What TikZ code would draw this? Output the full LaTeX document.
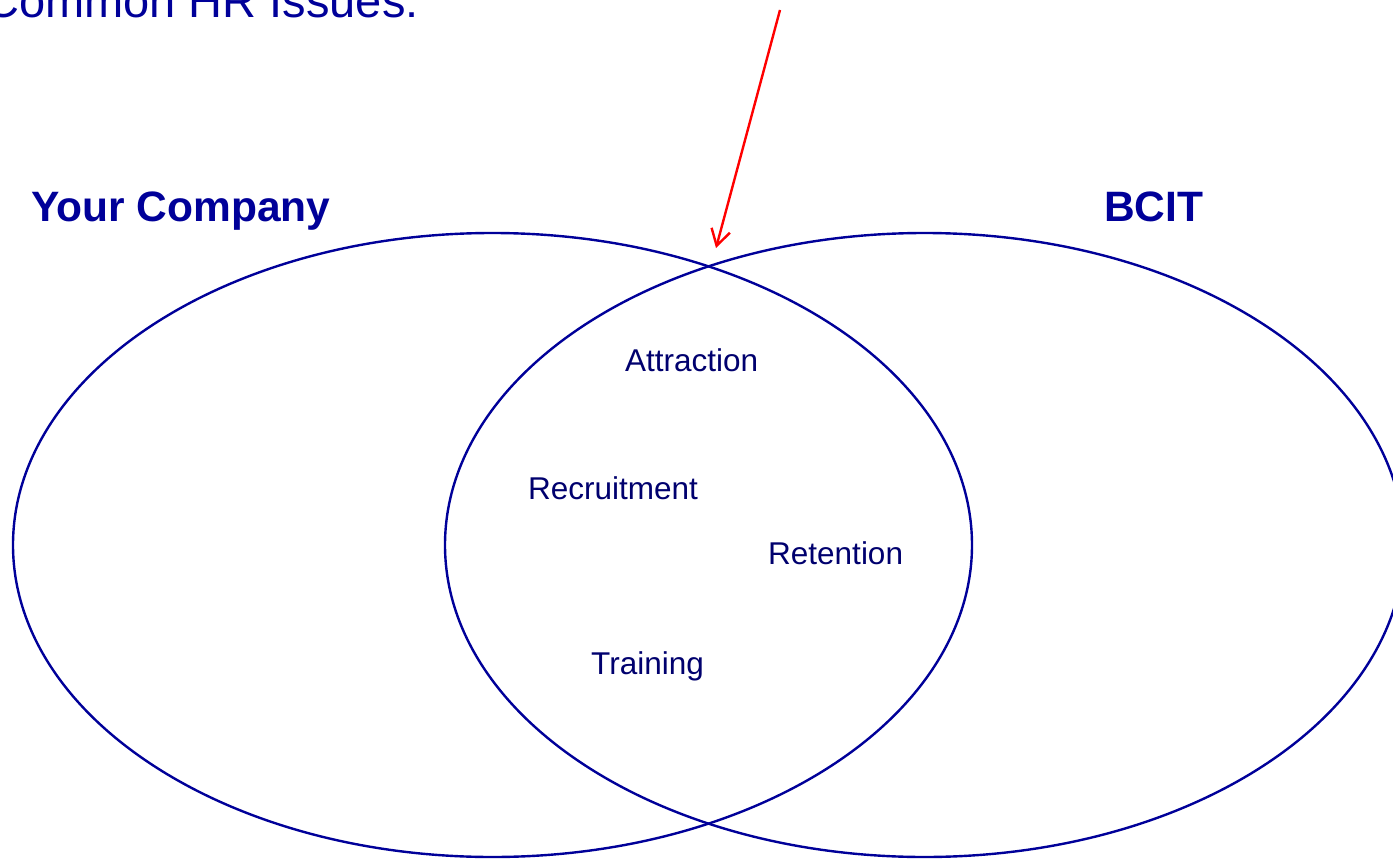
\documentclass[tikz,border=0pt]{standalone}
\usepackage{fontspec}
\setmainfont{Liberation Sans}
\usetikzlibrary{shapes.geometric,arrows.meta}
\definecolor{vblue}{RGB}{0,0,153}
\definecolor{lblue}{RGB}{0,0,110}
\definecolor{vred}{RGB}{255,0,0}
\tikzset{
  venn/.style={draw=vblue,line width=2.4pt,ellipse,minimum width=959pt,minimum height=624pt,inner sep=0pt},
  title/.style={text=vblue,font=\fontsize{42.5}{48}\selectfont\bfseries,anchor=base west,inner sep=0pt},
  item/.style={text=lblue,font=\fontsize{31.5}{36}\selectfont,anchor=base west,inner sep=0pt},
  head/.style={text=vblue,font=\fontsize{47}{53}\selectfont,anchor=base west,inner sep=0pt},
  pointer/.style={draw=vred,line width=2.4pt,-{Straight Barb[length=16pt,width=19pt,line width=2.4pt]}}
}
\begin{document}
\begin{tikzpicture}[x=1pt,y=-1pt]
\useasboundingbox (0,0) rectangle (1393,859);
\clip (0,0) rectangle (1393,859);
\fill[white] (0,0) rectangle (1393,859);
\node[venn] (left) at (492.5,545) {};
\node[venn] (right) at (924.5,545) {};
\node[head] (hdr) at (-15,18) {Common HR Issues:};
\node[title] (yc) at (31,221) {Your Company};
\node[title] (bcit) at (1104,221) {BCIT};
\node[item] (att) at (625,371) {Attraction};
\node[item] (rec) at (528,499) {Recruitment};
\node[item] (ret) at (768,564) {Retention};
\node[item] (tra) at (591,674) {Training};
\coordinate (pstart) at (780,10);
\coordinate (ptip) at (716,248);
\draw[pointer] (pstart) -- (ptip);
\end{tikzpicture}
\end{document}
